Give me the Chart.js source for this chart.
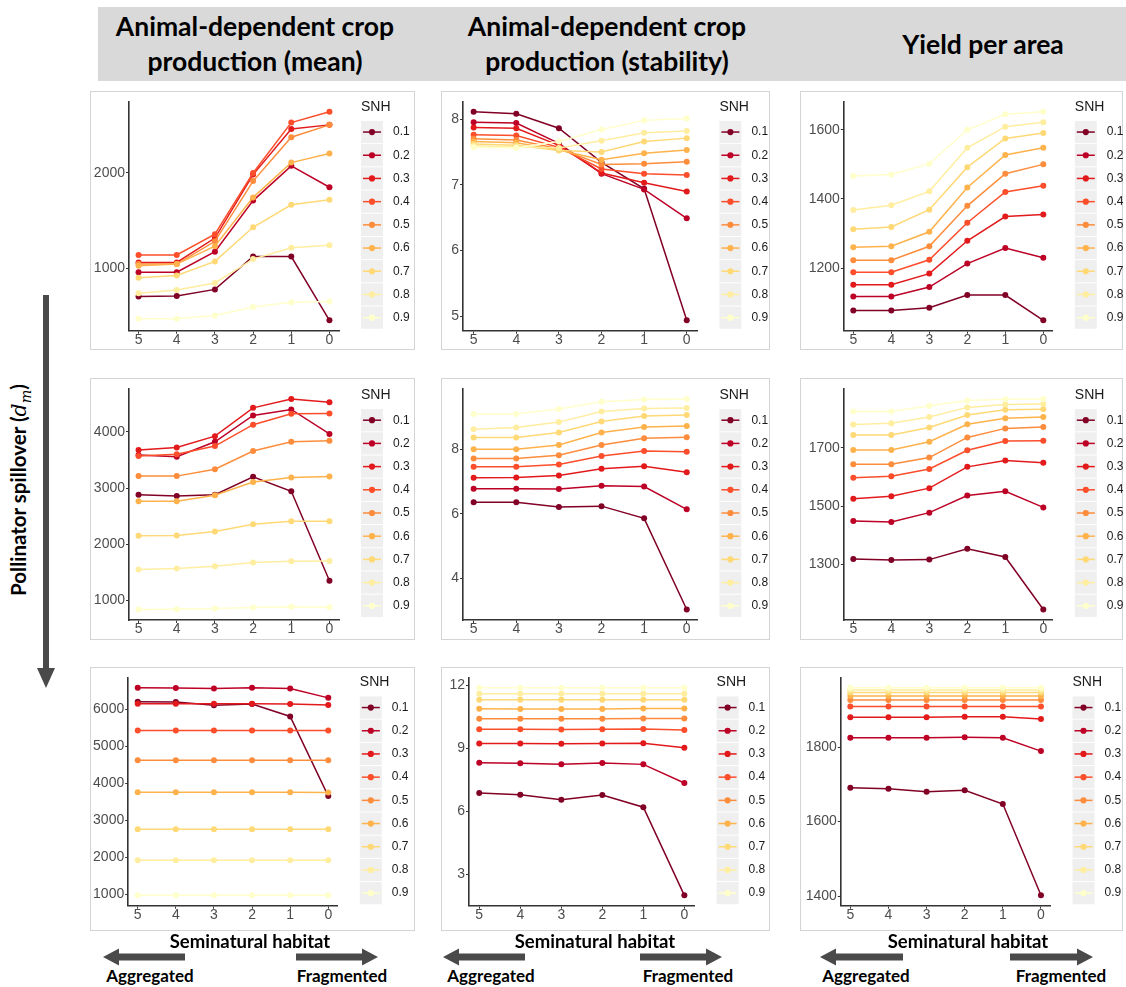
<!DOCTYPE html>
<html>
<head>
<meta charset="utf-8">
<script src="https://cdn.jsdelivr.net/npm/chart.js@4.4.1/dist/chart.umd.min.js"></script>
<style>
  html, body { margin: 0; padding: 0; background: #fff; }
  body { width: 1126px; height: 987px; position: relative; overflow: hidden; font-family: 'Liberation Sans', Arial, sans-serif; }
  .hdrbg { position: absolute; left: 98px; top: 7px; width: 1028px; height: 74px; background: #d9d9d9; }
  .hdr { position: absolute; transform: translate(-50%, -50%); text-align: center; font-family: Lato, 'Open Sans', sans-serif; font-weight: 700; font-size: 26.5px; line-height: 35px; color: #000; white-space: nowrap; }
  .panel { position: absolute; border: 1px solid #d4d4d4; box-sizing: border-box; background: #fff; }
  .panel canvas { position: absolute; left: 0; top: 0; }
  .lbl { position: absolute; transform: translate(-50%, -50%); font-family: Lato, 'Open Sans', sans-serif; font-weight: 700; color: #000; white-space: nowrap; }
  .side { position: absolute; left: 20px; top: 490px; transform: translate(-50%, -50%) rotate(-90deg); font-family: Lato, 'Open Sans', sans-serif; font-weight: 700; font-size: 20.5px; color: #000; white-space: nowrap; }
  .side i { font-family: 'DejaVu Serif', serif; font-weight: 400; }
  svg.deco { position: absolute; left: 0; top: 0; pointer-events: none; }
</style>
</head>
<body>
<script>
// ---------------- data ----------------
const xValues = [5, 4, 3, 2, 1, 0];
const snhLevels = ['0.1', '0.2', '0.3', '0.4', '0.5', '0.6', '0.7', '0.8', '0.9'];
const snhColors = ['#800026', '#BD0026', '#E31A1C', '#FC4E2A', '#FD8D3C', '#FEB24C', '#FED976', '#FFEDA0', '#FFFFCC'];

const columnTitles = ['Animal-dependent crop\nproduction (mean)', 'Animal-dependent crop\nproduction (stability)', 'Yield per area'];

// Row 1 (low spillover)
const meanLow = [
  [703, 710, 778, 1123, 1123, 454],
  [959, 959, 1174, 1710, 2075, 1850],
  [1061, 1061, 1317, 1983, 2461, 2505],
  [1140, 1140, 1358, 2000, 2529, 2642],
  [1044, 1044, 1283, 1915, 2375, 2505],
  [1027, 1044, 1232, 1744, 2109, 2205],
  [901, 925, 1072, 1430, 1666, 1720],
  [737, 771, 846, 1096, 1215, 1242],
  [471, 471, 505, 594, 642, 652]
];
const stabLow = [
  [8.11, 8.08, 7.86, 7.34, 6.94, 4.94],
  [7.95, 7.94, 7.63, 7.17, 6.93, 6.49],
  [7.87, 7.86, 7.60, 7.18, 7.03, 6.90],
  [7.76, 7.75, 7.57, 7.24, 7.17, 7.15],
  [7.70, 7.68, 7.55, 7.31, 7.32, 7.35],
  [7.66, 7.64, 7.53, 7.38, 7.48, 7.53],
  [7.62, 7.60, 7.52, 7.50, 7.66, 7.71],
  [7.59, 7.58, 7.56, 7.67, 7.79, 7.82],
  [7.57, 7.56, 7.66, 7.84, 7.98, 8.01]
];
const yieldLow = [
  [1077, 1077, 1085, 1122, 1122, 1049],
  [1118, 1118, 1145, 1213, 1258, 1230],
  [1152, 1152, 1184, 1279, 1349, 1355],
  [1188, 1188, 1224, 1331, 1420, 1438],
  [1223, 1223, 1263, 1380, 1473, 1500],
  [1260, 1263, 1305, 1433, 1527, 1548],
  [1312, 1319, 1369, 1492, 1575, 1591],
  [1368, 1382, 1422, 1548, 1609, 1622],
  [1466, 1471, 1502, 1600, 1645, 1652]
];
// Row 2 (medium spillover)
const meanMid = [
  [2882, 2859, 2882, 3200, 2941, 1347],
  [3588, 3559, 3824, 4294, 4400, 3965],
  [3676, 3724, 3924, 4429, 4588, 4529],
  [3571, 3600, 3747, 4129, 4324, 4329],
  [3212, 3212, 3335, 3659, 3824, 3841],
  [2765, 2765, 2871, 3106, 3188, 3206],
  [2147, 2153, 2224, 2353, 2406, 2406],
  [1547, 1565, 1606, 1671, 1694, 1700],
  [835, 841, 853, 871, 882, 876]
];
const stabMid = [
  [6.36, 6.36, 6.21, 6.24, 5.86, 3.03],
  [6.78, 6.78, 6.77, 6.87, 6.85, 6.14],
  [7.12, 7.13, 7.19, 7.40, 7.48, 7.29],
  [7.46, 7.46, 7.53, 7.80, 7.95, 7.93],
  [7.72, 7.72, 7.82, 8.14, 8.35, 8.38],
  [8.01, 8.01, 8.14, 8.53, 8.70, 8.73],
  [8.37, 8.37, 8.53, 8.87, 9.04, 9.07],
  [8.63, 8.68, 8.85, 9.18, 9.27, 9.29],
  [9.10, 9.10, 9.26, 9.48, 9.55, 9.57]
];
const yieldMid = [
  [1319, 1316, 1317, 1354, 1326, 1146],
  [1449, 1446, 1478, 1537, 1551, 1496],
  [1526, 1534, 1562, 1635, 1657, 1649],
  [1598, 1603, 1628, 1692, 1724, 1725],
  [1644, 1644, 1667, 1736, 1767, 1772],
  [1693, 1693, 1721, 1781, 1802, 1806],
  [1744, 1744, 1770, 1813, 1831, 1833],
  [1780, 1785, 1806, 1839, 1849, 1851],
  [1825, 1825, 1845, 1863, 1867, 1868]
];
// Row 3 (high spillover)
const meanHigh = [
  [6202, 6194, 6106, 6141, 5806, 3650],
  [6581, 6572, 6563, 6581, 6563, 6308],
  [6150, 6150, 6150, 6150, 6141, 6114],
  [5428, 5428, 5428, 5428, 5428, 5428],
  [4618, 4618, 4618, 4618, 4618, 4618],
  [3755, 3755, 3755, 3755, 3755, 3750],
  [2752, 2752, 2752, 2752, 2752, 2752],
  [1915, 1915, 1915, 1915, 1915, 1915],
  [965, 965, 965, 965, 965, 965]
];
const stabHigh = [
  [6.87, 6.79, 6.56, 6.78, 6.20, 2.00],
  [8.32, 8.29, 8.24, 8.31, 8.24, 7.35],
  [9.23, 9.23, 9.22, 9.23, 9.25, 9.03],
  [9.91, 9.91, 9.90, 9.91, 9.92, 9.88],
  [10.42, 10.42, 10.41, 10.42, 10.43, 10.43],
  [10.89, 10.88, 10.88, 10.88, 10.90, 10.90],
  [11.32, 11.32, 11.32, 11.32, 11.32, 11.32],
  [11.61, 11.61, 11.61, 11.61, 11.61, 11.61],
  [11.89, 11.89, 11.89, 11.89, 11.89, 11.89]
];
const yieldHigh = [
  [1691, 1688, 1680, 1684, 1647, 1402],
  [1825, 1825, 1825, 1826, 1825, 1789],
  [1880, 1880, 1880, 1881, 1881, 1875],
  [1909, 1909, 1909, 1909, 1909, 1909],
  [1926, 1926, 1926, 1926, 1926, 1926],
  [1937, 1937, 1937, 1937, 1937, 1937],
  [1946, 1946, 1946, 1946, 1946, 1946],
  [1953, 1953, 1953, 1953, 1953, 1953],
  [1959, 1959, 1959, 1959, 1959, 1959]
];

// y tick labels per panel
const meanLowTicks = [1000, 2000];
const stabLowTicks = [5, 6, 7, 8];
const yieldLowTicks = [1200, 1400, 1600];
const meanMidTicks = [1000, 2000, 3000, 4000];
const stabMidTicks = [4, 6, 8];
const yieldMidTicks = [1300, 1500, 1700];
const meanHighTicks = [1000, 2000, 3000, 4000, 5000, 6000];
const stabHighTicks = [3, 6, 9, 12];
const yieldHighTicks = [1400, 1600, 1800];

// ---------------- layout ----------------
const cols = [{ left: 90, w: 325 }, { left: 441, w: 329 }, { left: 800, w: 323 }];
const rows = [{ top: 91, h: 259 }, { top: 378, h: 262 }, { top: 667, h: 264 }];
// plot area inside each panel box (left, right, top, bottom)
const areas = [
  [{ l: 38, r: 248, t: 3.7, b: 238.7 }, { l: 21, r: 255.4, t: 3.7, b: 238.7 }, { l: 42.8, r: 251.8, t: 3.7, b: 238.7 }],
  [{ l: 38, r: 248, t: 6.3, b: 241 }, { l: 21, r: 255.4, t: 6.3, b: 241 }, { l: 42.8, r: 251.8, t: 6.3, b: 241 }],
  [{ l: 37.2, r: 246.8, t: 3.6, b: 237.7 }, { l: 27, r: 252.6, t: 3.6, b: 237.7 }, { l: 39.8, r: 249.5, t: 3.6, b: 237.7 }]
];
const panels = [
  [[meanLow, meanLowTicks], [stabLow, stabLowTicks], [yieldLow, yieldLowTicks]],
  [[meanMid, meanMidTicks], [stabMid, stabMidTicks], [yieldMid, yieldMidTicks]],
  [[meanHigh, meanHighTicks], [stabHigh, stabHighTicks], [yieldHigh, yieldHighTicks]]
];

const X_AXIS_H = 19;

const snhLegend = {
  id: 'snhLegend',
  afterDraw(chart) {
    const ctx = chart.ctx, ca = chart.chartArea;
    const keyL = ca.right + 22, mid = (ca.top + ca.bottom) / 2;
    const step = 23.2, keyW = 22;
    ctx.save();
    ctx.fillStyle = '#1a1a1a';
    ctx.font = '14px "Liberation Sans", Arial, sans-serif';
    ctx.textBaseline = 'middle';
    ctx.textAlign = 'left';
    ctx.fillText('SNH', keyL, mid - 109);
    chart.data.datasets.forEach((ds, i) => {
      const cy = mid - 84 + i * step;
      ctx.fillStyle = '#efefef';
      ctx.fillRect(keyL, cy - step / 2 + 0.5, keyW, step - 1);
      ctx.strokeStyle = ds.borderColor;
      ctx.lineWidth = 1.5;
      ctx.beginPath();
      ctx.moveTo(keyL + 2, cy);
      ctx.lineTo(keyL + keyW - 2, cy);
      ctx.stroke();
      ctx.fillStyle = ds.borderColor;
      ctx.beginPath();
      ctx.arc(keyL + keyW / 2, cy, 3.1, 0, Math.PI * 2);
      ctx.fill();
      ctx.fillStyle = '#1a1a1a';
      ctx.font = '12px "Liberation Sans", Arial, sans-serif';
      ctx.fillText(ds.label, keyL + keyW + 10, cy);
    });
    ctx.restore();
  }
};

function addDiv(cls, html, style) {
  const d = document.createElement('div');
  d.className = cls;
  d.innerHTML = html;
  Object.assign(d.style, style);
  document.body.appendChild(d);
  return d;
}

function buildPanel(r, c) {
  const col = cols[c], row = rows[r], a = areas[r][c];
  const [series, tickVals] = panels[r][c];
  const box = addDiv('panel', '', { left: col.left + 'px', top: row.top + 'px', width: col.w + 'px', height: row.h + 'px' });
  const cv = document.createElement('canvas');
  cv.width = col.w; cv.height = row.h;
  cv.style.width = col.w + 'px'; cv.style.height = row.h + 'px';
  box.appendChild(cv);

  const all = series.flat();
  const lo = Math.min(...all), hi = Math.max(...all), pad = (hi - lo) * 0.05;
  const xlo = Math.min(...xValues), xhi = Math.max(...xValues), xpad = (xhi - xlo) * 0.05;

  new Chart(cv, {
    type: 'line',
    data: {
      datasets: series.map((vals, i) => ({
        label: snhLevels[i],
        data: vals.map((v, j) => ({ x: xValues[j], y: v })),
        borderColor: snhColors[i],
        backgroundColor: snhColors[i],
        pointBackgroundColor: snhColors[i],
        pointBorderColor: snhColors[i],
        borderWidth: 1.5,
        pointRadius: 3,
        pointBorderWidth: 0,
        pointHoverRadius: 3,
        tension: 0,
        fill: false,
        order: 9 - i
      }))
    },
    options: {
      responsive: false,
      animation: false,
      events: [],
      layout: { autoPadding: false, padding: { left: 0, top: a.t, right: col.w - a.r, bottom: row.h - a.b - X_AXIS_H } },
      plugins: { legend: { display: false }, tooltip: { enabled: false } },
      scales: {
        x: {
          type: 'linear', reverse: true, min: xlo - xpad, max: xhi + xpad,
          afterBuildTicks: s => { s.ticks = xValues.map(v => ({ value: v })); },
          afterFit: s => { s.height = X_AXIS_H; },
          grid: { display: true, drawOnChartArea: false, tickLength: 3, color: '#333', lineWidth: 1 },
          border: { display: true, color: '#333', width: 1.6 },
          ticks: { color: '#4d4d4d', font: { size: 14, lineHeight: 1 }, padding: -1, maxRotation: 0, autoSkip: false, callback: v => String(v) }
        },
        y: {
          type: 'linear', min: lo - pad, max: hi + pad,
          afterBuildTicks: s => { s.ticks = tickVals.map(v => ({ value: v })); },
          afterFit: s => { s.width = a.l; },
          grid: { display: true, drawOnChartArea: false, tickLength: 3, color: '#333', lineWidth: 1 },
          border: { display: true, color: '#333', width: 1.6 },
          ticks: { color: '#4d4d4d', font: { size: 14 }, padding: 1, autoSkip: false, callback: v => String(v) }
        }
      }
    },
    plugins: [snhLegend]
  });
}

Chart.defaults.font.family = '"Liberation Sans", Arial, sans-serif';

// header
addDiv('hdrbg', '', {});
const hdrX = [255, 607, 983];
columnTitles.forEach((t, i) => addDiv('hdr', t.replace('\n', '<br>'), { left: hdrX[i] + 'px', top: '44px' }));

for (let r = 0; r < 3; r++) for (let c = 0; c < 3; c++) buildPanel(r, c);

// side label
addDiv('side', 'Pollinator spillover (<i>d<sub style="font-size:70%">m</sub></i>)', {});

// bottom labels
const habX = [250, 595, 968], aggX = [150, 491, 866], fragX = [342, 688, 1061];
habX.forEach(x => addDiv('lbl', 'Seminatural habitat', { left: x + 'px', top: '941px', fontSize: '18.5px' }));
aggX.forEach(x => addDiv('lbl', 'Aggregated', { left: x + 'px', top: '975px', fontSize: '17px' }));
fragX.forEach(x => addDiv('lbl', 'Fragmented', { left: x + 'px', top: '975px', fontSize: '17px' }));

// arrows
const arrowSpans = [[103, 185, 296, 378], [443, 525, 640, 722], [820, 903, 1010, 1093]];
const NS = 'http://www.w3.org/2000/svg';
const svg = document.createElementNS(NS, 'svg');
svg.setAttribute('class', 'deco');
svg.setAttribute('width', 1126); svg.setAttribute('height', 987);
function poly(pts) {
  const p = document.createElementNS(NS, 'polygon');
  p.setAttribute('points', pts.map(q => q.join(',')).join(' '));
  p.setAttribute('fill', '#4a4a4a');
  svg.appendChild(p);
}
const ay = 957, sh = 3.5, hh = 8.5, hl = 16;
arrowSpans.forEach(([lt, ltail, rtail, rt]) => {
  poly([[lt, ay], [lt + hl, ay - hh], [lt + hl, ay - sh], [ltail, ay - sh], [ltail, ay + sh], [lt + hl, ay + sh], [lt + hl, ay + hh]]);
  poly([[rt, ay], [rt - hl, ay - hh], [rt - hl, ay - sh], [rtail, ay - sh], [rtail, ay + sh], [rt - hl, ay + sh], [rt - hl, ay + hh]]);
});
// vertical arrow
poly([[43, 295], [49, 295], [49, 668], [55, 668], [46, 688], [37, 668], [43, 668]]);
document.body.appendChild(svg);
</script>
</body>
</html>
